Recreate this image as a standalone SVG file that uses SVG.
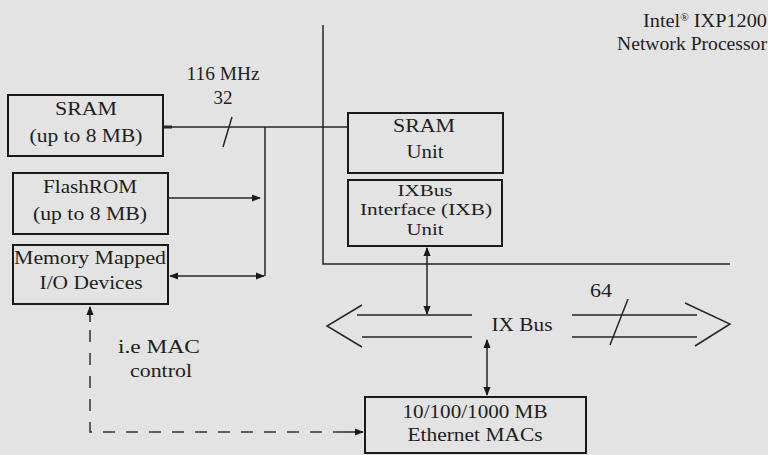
<svg xmlns="http://www.w3.org/2000/svg" width="768" height="455" viewBox="0 0 768 455">
<style>
text{font-family:"Liberation Serif","Times New Roman",serif;fill:#1e1e1e;font-size:19px;text-anchor:middle}
.box{fill:none;stroke:#1a1a1a;stroke-width:2}
.ln{fill:none;stroke:#262626;stroke-width:1.5}
.dash{fill:none;stroke:#333;stroke-width:1.5;stroke-dasharray:12 11}
</style>
<defs>
<marker id="ah" viewBox="0 0 10 10" refX="9" refY="5" markerWidth="9" markerHeight="9" markerUnits="userSpaceOnUse" orient="auto-start-reverse"><path d="M0,1 L10,5 L0,9 Z" fill="#1a1a1a"/></marker>
</defs>
<rect width="768" height="455" fill="#e2e3e2"/>
<g id="boundary">
<path class="ln" d="M323,25 V264 H730"/>
<text x="767" y="27" style="text-anchor:end;font-size:18px" textLength="124" lengthAdjust="spacingAndGlyphs">Intel<tspan font-size="10" dy="-6">®</tspan><tspan dy="6"> IXP1200</tspan></text>
<text x="767" y="50" style="text-anchor:end;font-size:18px" textLength="150" lengthAdjust="spacingAndGlyphs">Network Processor</text>
</g>
<g id="sram">
<rect class="box" x="8" y="95" width="155" height="61"/>
<text x="86" y="115" textLength="62" lengthAdjust="spacingAndGlyphs">SRAM</text>
<text x="86" y="142" textLength="113" lengthAdjust="spacingAndGlyphs">(up to 8 MB)</text>
</g>
<g id="flashrom">
<rect class="box" x="13" y="173" width="155" height="61"/>
<text x="90" y="193" textLength="94" lengthAdjust="spacingAndGlyphs">FlashROM</text>
<text x="90" y="220" textLength="114" lengthAdjust="spacingAndGlyphs">(up to 8 MB)</text>
</g>
<g id="mmio">
<rect class="box" x="13" y="245" width="155" height="59"/>
<text x="90" y="264" textLength="152" lengthAdjust="spacingAndGlyphs">Memory Mapped</text>
<text x="91" y="289" textLength="103" lengthAdjust="spacingAndGlyphs">I/O Devices</text>
</g>
<g id="sramunit">
<rect class="box" x="348" y="113" width="155" height="60"/>
<text x="424" y="132" textLength="62" lengthAdjust="spacingAndGlyphs">SRAM</text>
<text x="425" y="158" textLength="37" lengthAdjust="spacingAndGlyphs">Unit</text>
</g>
<g id="ixb">
<rect class="box" x="348" y="180" width="154" height="66"/>
<text x="425" y="196" style="font-size:16.5px" textLength="55" lengthAdjust="spacingAndGlyphs">IXBus</text>
<text x="426" y="215" style="font-size:16.5px" textLength="132" lengthAdjust="spacingAndGlyphs">Interface (IXB)</text>
<text x="425" y="235" style="font-size:16.5px" textLength="37" lengthAdjust="spacingAndGlyphs">Unit</text>
</g>
<g id="macs">
<rect class="box" x="365" y="397" width="221" height="56"/>
<text x="475" y="418" textLength="145" lengthAdjust="spacingAndGlyphs">10/100/1000 MB</text>
<text x="475" y="441" textLength="135" lengthAdjust="spacingAndGlyphs">Ethernet MACs</text>
</g>
<g id="ixbus">
<path class="ln" d="M357,315 H472 M362,337 H472 M362,305 L327,326 L362,347"/>
<path class="ln" d="M572,315 H697 M572,337 H697 M685,303 L730,324 L695,346"/>
<text x="522" y="331" textLength="61" lengthAdjust="spacingAndGlyphs">IX Bus</text>
<text x="601" y="297" style="font-size:18px" textLength="22" lengthAdjust="spacingAndGlyphs">64</text>
<path class="ln" d="M628,299 L610,345"/>
</g>
<g id="connectors">
<path class="ln" d="M163,127 H348"/>
<path class="ln" d="M163,127 H172" style="stroke-width:3"/>
<path class="ln" d="M265,127 V276"/>
<text x="223" y="80" style="font-size:18px" textLength="73" lengthAdjust="spacingAndGlyphs">116 MHz</text>
<text x="223" y="104" style="font-size:18px" textLength="19" lengthAdjust="spacingAndGlyphs">32</text>
<path class="ln" d="M232,117 L223,147"/>
<path class="ln" d="M168,198 H260" marker-end="url(#ah)"/>
<path class="ln" d="M170,276 H264" marker-start="url(#ah)" marker-end="url(#ah)"/>
<path class="ln" d="M427,248 V314" marker-start="url(#ah)" marker-end="url(#ah)"/>
<path class="ln" d="M487,340 V395" marker-start="url(#ah)" marker-end="url(#ah)"/>
<path class="dash" d="M90,330 V432 H350"/>
<path class="ln" d="M90,322 V307" marker-end="url(#ah)"/>
<path class="ln" d="M345,432 H363" marker-end="url(#ah)"/>
<text x="159" y="353" textLength="82" lengthAdjust="spacingAndGlyphs">i.e MAC</text>
<text x="161" y="377" textLength="62" lengthAdjust="spacingAndGlyphs">control</text>
</g>
</svg>
